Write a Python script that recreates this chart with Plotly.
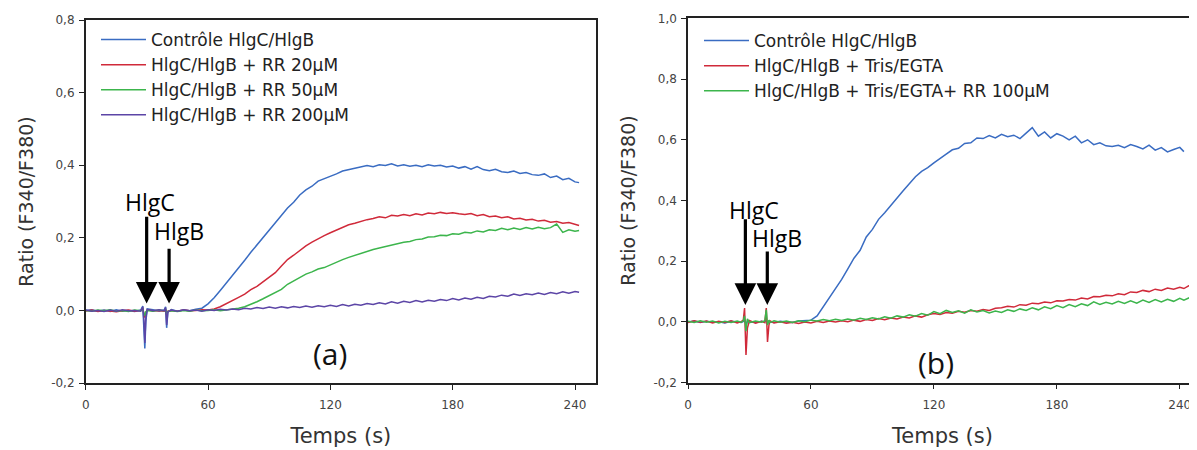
import plotly.graph_objects as go

# ---------------- data ----------------
# Panel (a): time in seconds
time_a = [0, 3, 6, 9, 12, 15, 18, 21, 24, 27,
          28, 28.6, 29, 29.5, 30.2,
          33, 36, 38.5,
          39.2, 39.7, 40.3,
          42, 45, 48, 51, 54, 57, 60, 63, 66, 69,
          72, 75, 78, 81, 84, 87, 90, 93, 96, 99,
          102, 105, 108, 111, 114, 117, 120, 123, 126, 129,
          132, 135, 138, 141, 144, 147, 150, 153, 156, 159,
          162, 165, 168, 171, 174, 177, 180, 183, 186, 189,
          192, 195, 198, 201, 204, 207, 210, 213, 216, 219,
          222, 225, 228, 231, 234, 237, 240,
          242]

ctrl_a = [0.000, 0.002, -0.002, 0.001, -0.003, 0.002, -0.002, 0.000, -0.003, 0.001,
          0.012, -0.040, -0.105, -0.030, 0.004,
          0.002, -0.002, 0.001,
          0.010, -0.048, -0.005,
          0.002, -0.002, 0.001, -0.001, 0.003, 0.006, 0.018, 0.035, 0.055, 0.075,
          0.095, 0.118, 0.138, 0.160, 0.180, 0.200, 0.222, 0.240, 0.262, 0.282,
          0.298, 0.318, 0.332, 0.342, 0.356, 0.362, 0.370, 0.376, 0.384, 0.388,
          0.393, 0.396, 0.399, 0.396, 0.401, 0.399, 0.404, 0.398, 0.401, 0.397,
          0.400, 0.396, 0.401, 0.398, 0.400, 0.395, 0.398, 0.392, 0.396, 0.389,
          0.396, 0.388, 0.385, 0.389, 0.382, 0.380, 0.384, 0.377, 0.380, 0.374,
          0.372, 0.376, 0.366, 0.370, 0.360, 0.364, 0.354,
          0.352]

rr20_a = [-0.002, 0.001, -0.003, 0.000, -0.002, -0.004, -0.001, 0.001, -0.002, 0.000,
          0.004, -0.010, -0.020, -0.005, 0.001,
          -0.001, 0.000, -0.002,
          0.003, -0.012, -0.002,
          0.000, -0.002, 0.001, -0.001, 0.000, 0.002, 0.001, 0.004, 0.010, 0.018,
          0.026, 0.036, 0.045, 0.057, 0.066, 0.078, 0.092, 0.104, 0.122, 0.140,
          0.152, 0.166, 0.178, 0.188, 0.198, 0.206, 0.214, 0.222, 0.229, 0.236,
          0.240, 0.246, 0.250, 0.253, 0.258, 0.255, 0.262, 0.260, 0.264, 0.261,
          0.266, 0.263, 0.268, 0.266, 0.270, 0.267, 0.269, 0.266, 0.264, 0.267,
          0.261, 0.264, 0.258, 0.260, 0.255, 0.258, 0.252, 0.254, 0.249, 0.251,
          0.246, 0.248, 0.243, 0.245, 0.240, 0.242, 0.236,
          0.234]

rr50_a = [0.000, -0.002, 0.001, -0.001, 0.002, -0.002, 0.000, -0.003, 0.001, -0.001,
          0.003, -0.008, -0.015, -0.004, 0.000,
          -0.002, 0.001, -0.001,
          0.002, -0.010, -0.003,
          -0.001, -0.003, 0.000, -0.002, 0.001, -0.001, 0.000, 0.002, -0.001, 0.001,
          0.003, 0.006, 0.010, 0.016, 0.024, 0.032, 0.040, 0.048, 0.058, 0.072,
          0.082, 0.092, 0.100, 0.106, 0.114, 0.118, 0.126, 0.132, 0.140, 0.146,
          0.152, 0.158, 0.164, 0.168, 0.172, 0.176, 0.181, 0.183, 0.188, 0.190,
          0.195, 0.197, 0.202, 0.203, 0.207, 0.206, 0.211, 0.210, 0.215, 0.213,
          0.219, 0.216, 0.222, 0.220, 0.226, 0.222, 0.227, 0.223, 0.228, 0.224,
          0.229, 0.225, 0.228, 0.238, 0.215, 0.222, 0.218,
          0.220]

rr200_a = [0.001, -0.002, 0.000, -0.003, 0.001, -0.002, 0.002, -0.001, 0.000, -0.002,
           0.010, -0.030, -0.090, -0.020, 0.003,
           -0.001, 0.002, -0.001,
           0.008, -0.040, -0.004,
           0.001, -0.002, 0.002, -0.001, 0.001, -0.002, 0.002, 0.000, 0.003, 0.001,
           0.004, 0.002, 0.006, 0.004, 0.008, 0.005, 0.009, 0.006, 0.010, 0.007,
           0.011, 0.008, 0.012, 0.009, 0.013, 0.010, 0.014, 0.011, 0.016, 0.012,
           0.017, 0.014, 0.019, 0.016, 0.021, 0.018, 0.024, 0.020, 0.025, 0.022,
           0.027, 0.023, 0.028, 0.025, 0.030, 0.027, 0.033, 0.029, 0.034, 0.031,
           0.036, 0.033, 0.039, 0.037, 0.042, 0.039, 0.045, 0.041, 0.046, 0.043,
           0.048, 0.044, 0.049, 0.046, 0.051, 0.047, 0.052,
           0.050]

# Panel (b)
time_b = [0, 3, 6, 9, 12, 15, 18, 21, 24,
          26, 27, 27.6, 28.3, 29, 30,
          33, 36,
          37.5, 38.2, 38.8, 39.5, 40,
          42, 45, 48, 51, 54, 57, 60, 63, 66, 69,
          72, 75, 78, 81, 84, 87, 90, 93, 96, 99,
          102, 105, 108, 111, 114, 117, 120, 123, 126, 129,
          132, 135, 138, 141, 144, 147, 150, 153, 156, 159,
          162, 165, 168, 171, 174, 177, 180, 183, 186, 189,
          192, 195, 198, 201, 204, 207, 210, 213, 216, 219,
          222, 225, 228, 231, 234, 237, 240,
          242, 246, 249]

ctrl_b = [0.000, 0.003, -0.002, 0.002, -0.001, 0.001, -0.003, 0.002, 0.000,
          -0.002, 0.002, 0.010, -0.010, 0.003, 0.000,
          -0.002, 0.002,
          0.000, 0.006, -0.006, 0.002, 0.000,
          -0.002, 0.002, 0.000, -0.002, 0.003, 0.004, 0.006, 0.020, 0.050, 0.078,
          0.108, 0.140, 0.175, 0.210, 0.236, 0.280, 0.305, 0.338, 0.360, 0.385,
          0.410, 0.432, 0.455, 0.478, 0.496, 0.508, 0.524, 0.540, 0.553, 0.567,
          0.572, 0.588, 0.590, 0.606, 0.604, 0.614, 0.606, 0.618, 0.610, 0.615,
          0.604, 0.622, 0.640, 0.612, 0.626, 0.606, 0.620, 0.612, 0.600, 0.612,
          0.590, 0.600, 0.584, 0.590, 0.580, 0.578, 0.582, 0.574, 0.584, 0.578,
          0.570, 0.582, 0.566, 0.574, 0.560, 0.568, 0.575,
          0.561, None, None]

egta_b = [-0.002, 0.004, -0.001, 0.003, -0.003, 0.002, -0.002, 0.004, -0.003,
          0.001, 0.006, 0.046, -0.109, -0.020, 0.005,
          -0.004, 0.002,
          -0.002, 0.046, -0.066, -0.010, 0.004,
          -0.003, 0.001, -0.004, -0.001, -0.005, 0.000, -0.003, 0.002, -0.002, 0.003,
          0.000, 0.004, 0.001, 0.006, 0.002, 0.008, 0.005, 0.011, 0.007, 0.013,
          0.010, 0.016, 0.013, 0.020, 0.016, 0.024, 0.028, 0.025, 0.031, 0.029,
          0.035, 0.032, 0.038, 0.035, 0.041, 0.038, 0.045, 0.047, 0.052, 0.049,
          0.057, 0.055, 0.062, 0.060, 0.066, 0.063, 0.070, 0.069, 0.074, 0.072,
          0.079, 0.076, 0.084, 0.083, 0.088, 0.086, 0.093, 0.090, 0.099, 0.097,
          0.104, 0.100, 0.108, 0.104, 0.112, 0.108, 0.114,
          0.110, 0.126, 0.120]

egta_rr_b = [0.002, -0.002, 0.004, -0.001, 0.003, -0.003, 0.002, -0.002, 0.003,
             -0.001, 0.004, 0.020, -0.030, 0.010, -0.002,
             0.003, -0.001,
             0.004, 0.040, -0.010, 0.006, -0.002,
             0.004, -0.001, 0.003, -0.002, 0.004, 0.001, 0.006, 0.003, 0.008, 0.004,
             0.009, 0.005, 0.010, 0.006, 0.012, 0.008, 0.014, 0.010, 0.017, 0.012,
             0.020, 0.016, 0.024, 0.019, 0.028, 0.022, 0.034, 0.027, 0.038, 0.031,
             0.037, 0.029, 0.040, 0.033, 0.038, 0.030, 0.036, 0.031, 0.040, 0.035,
             0.043, 0.038, 0.047, 0.040, 0.050, 0.044, 0.054, 0.047, 0.057, 0.050,
             0.060, 0.054, 0.066, 0.058, 0.065, 0.059, 0.068, 0.061, 0.070, 0.062,
             0.072, 0.064, 0.074, 0.066, 0.075, 0.068, 0.078,
             0.072, 0.084, 0.080]

names_a = ["Contrôle HlgC/HlgB", "HlgC/HlgB + RR 20µM", "HlgC/HlgB + RR 50µM", "HlgC/HlgB + RR 200µM"]
names_b = ["Contrôle HlgC/HlgB", "HlgC/HlgB + Tris/EGTA", "HlgC/HlgB + Tris/EGTA+ RR 100µM"]

x_ticks = [0, 60, 120, 180, 240]
x_ticktext = ["0", "60", "120", "180", "240"]
y_ticks_a = [-0.2, 0.0, 0.2, 0.4, 0.6, 0.8]
y_ticktext_a = ["-0,2", "0,0", "0,2", "0,4", "0,6", "0,8"]
y_ticks_b = [-0.2, 0.0, 0.2, 0.4, 0.6, 0.8, 1.0]
y_ticktext_b = ["-0,2", "0,0", "0,2", "0,4", "0,6", "0,8", "1,0"]

# injection markers: (label, arrow x, arrow tail y, arrow tip y, text x, text y)
marks_a = [("HlgC", 29.9, 0.262, 0.019, 31.5, 0.300),
           ("HlgB", 40.9, 0.174, 0.019, 45.8, 0.220)]
marks_b = [("HlgC", 28.0, 0.343, 0.056, 32.2, 0.369),
           ("HlgB", 38.7, 0.237, 0.056, 43.4, 0.277)]

for arr in (ctrl_a, rr20_a, rr50_a, rr200_a):
    assert len(arr) == len(time_a)
for arr in (ctrl_b, egta_b, egta_rr_b):
    assert len(arr) == len(time_b)

# ---------------- figure ----------------
PAGE_OFF = 8           # default body margin of the html page
W, H = 1197 - PAGE_OFF, 450 - PAGE_OFF
BLUE = "#3a6cc2"
RED = "#d02a3a"
GREEN = "#3cb54c"
PURPLE = "#5c45a6"
SANS = "DejaVu Sans, Arial, sans-serif"
OPEN = "Open Sans, sans-serif"


def px_x(p):
    """page pixel column -> paper fraction"""
    return (p - PAGE_OFF) / W


def px_y(p):
    """page pixel row -> paper fraction"""
    return (H - (p - PAGE_OFF)) / H


fig = go.Figure()

for yv, nm, col in zip((ctrl_a, rr20_a, rr50_a, rr200_a), names_a, (BLUE, RED, GREEN, PURPLE)):
    fig.add_trace(go.Scatter(x=time_a, y=yv, name=nm, mode="lines",
                             line=dict(color=col, width=1.5),
                             xaxis="x", yaxis="y", legend="legend"))
for yv, nm, col in zip((ctrl_b, egta_b, egta_rr_b), names_b, (BLUE, RED, GREEN)):
    fig.add_trace(go.Scatter(x=time_b, y=yv, name=nm, mode="lines",
                             line=dict(color=col, width=1.5),
                             xaxis="x2", yaxis="y2", legend="legend2", connectgaps=False))

axis_common = dict(showgrid=False, zeroline=False, ticks="outside", ticklen=5,
                   tickwidth=1.3, tickcolor="#222", linecolor="#222", linewidth=1.5,
                   tickfont=dict(family=SANS, size=12, color="#444"),
                   automargin=False)
xtitle_font = dict(family=SANS, size=21, color="#333")
ytitle_font = dict(family=SANS, size=19, color="#333")
legend_font = dict(family=SANS, size=17, color="#222")

fig.update_layout(
    width=W, height=H,
    margin=dict(l=0, r=0, t=0, b=0),
    paper_bgcolor="white", plot_bgcolor="white",
    showlegend=True,
    xaxis=dict(domain=[px_x(85.7), px_x(596)], range=[0, 250.3],
               tickvals=x_ticks, ticktext=x_ticktext, mirror=True,
               ticklabelstandoff=5,
               title=dict(text="Temps (s)", standoff=17, font=xtitle_font),
               anchor="y", **axis_common),
    yaxis=dict(domain=[px_y(383), px_y(20)], range=[-0.2, 0.8],
               tickvals=y_ticks_a, ticktext=y_ticktext_a, mirror=True,
               ticklabelstandoff=2,
               title=dict(text="Ratio (F340/F380)", standoff=12, font=ytitle_font),
               anchor="x", **axis_common),
    xaxis2=dict(domain=[px_x(688), 1.0], range=[0, 248.4],
                tickvals=x_ticks, ticktext=x_ticktext, mirror=True,
                ticklabelstandoff=5,
                title=dict(text="Temps (s)", standoff=17, font=xtitle_font),
                anchor="y2", **axis_common),
    yaxis2=dict(domain=[px_y(382.7), px_y(18.3)], range=[-0.2, 1.0],
                tickvals=y_ticks_b, ticktext=y_ticktext_b, mirror=False,
                ticklabelstandoff=2,
                title=dict(text="Ratio (F340/F380)", standoff=13, font=ytitle_font),
                anchor="x2", **axis_common),
    legend=dict(x=px_x(96), y=px_y(22), xanchor="left", yanchor="top",
                bgcolor="rgba(0,0,0,0)", borderwidth=0, font=legend_font,
                tracegroupgap=0, itemwidth=45),
    legend2=dict(x=px_x(699), y=px_y(23), xanchor="left", yanchor="top",
                 bgcolor="rgba(0,0,0,0)", borderwidth=0, font=legend_font,
                 tracegroupgap=0, itemwidth=45),
)

annotations = []
for marks, xr, yr in ((marks_a, "x", "y"), (marks_b, "x2", "y2")):
    for label, ax_x, tail, tip, tx, ty in marks:
        annotations.append(dict(x=ax_x, y=tip, ax=ax_x, ay=tail, xref=xr, yref=yr,
                                axref=xr, ayref=yr, text="", showarrow=True,
                                arrowhead=2, arrowsize=1.35, arrowwidth=3.2,
                                arrowcolor="#000"))
        annotations.append(dict(x=tx, y=ty, xref=xr, yref=yr, text=label,
                                showarrow=False,
                                font=dict(family=OPEN, size=23, color="#000")))

annotations.append(dict(x=120, y=-0.118, xref="x", yref="y", text="(a)", showarrow=False,
                        font=dict(family=OPEN, size=30, color="#111")))
annotations.append(dict(x=121, y=-0.135, xref="x2", yref="y2", text="(b)", showarrow=False,
                        font=dict(family=OPEN, size=30, color="#111")))
fig.update_layout(annotations=annotations)

fig.write_html("out.html")
